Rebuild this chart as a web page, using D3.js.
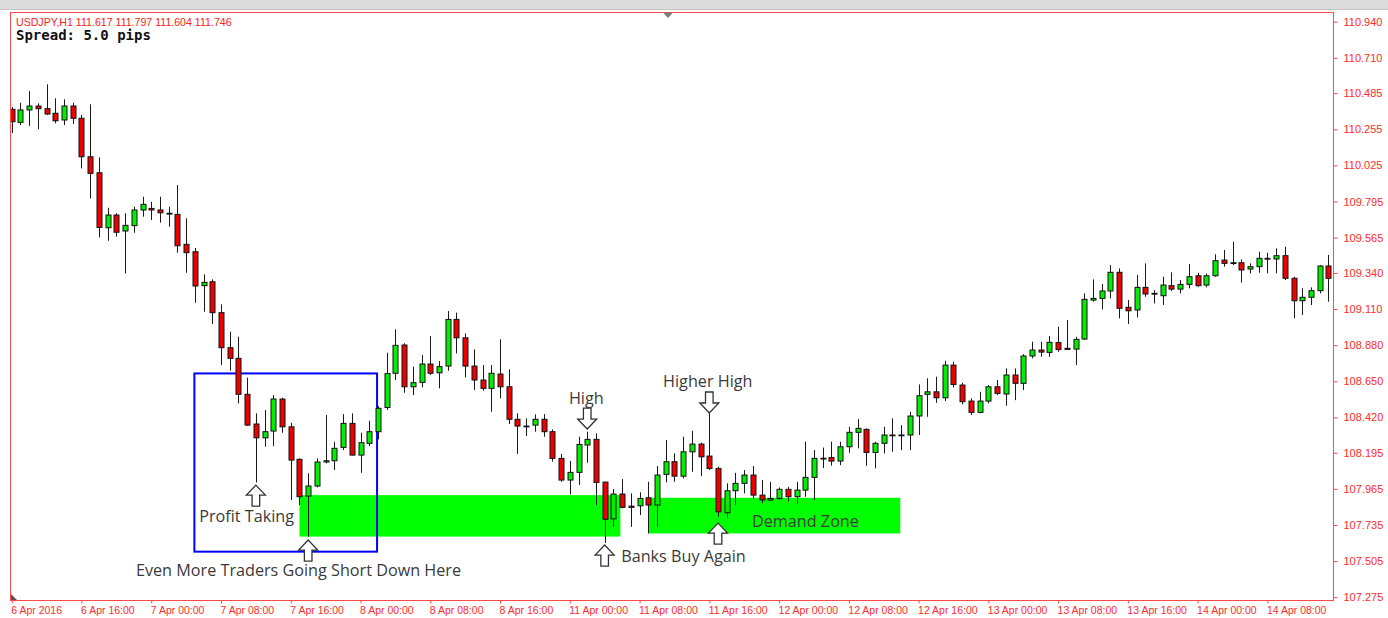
<!DOCTYPE html>
<html>
<head>
<meta charset="utf-8">
<script src="https://cdn.jsdelivr.net/npm/d3@7/dist/d3.min.js"></script>
<style>
  html, body { margin: 0; padding: 0; background: #fff; }
  svg { display: block; }
</style>
</head>
<body>
<div id="chart"></div>
<script>
// USDJPY H1, 6 Apr 08:00 .. 14 Apr 2016
const opens = [
  110.382,110.299,110.378,110.403,110.386,110.357,110.314,110.403,110.325,110.080,
  109.978,109.628,109.709,109.607,109.641,109.741,109.751,109.741,109.720,109.713,
  109.522,109.475,109.259,109.284,109.087,108.864,108.796,108.567,108.378,108.290,
  108.333,108.537,108.360,108.153,107.919,107.983,108.136,108.144,108.229,108.382,
  108.180,108.255,108.329,108.483,108.701,108.881,108.615,108.643,108.760,108.704,
  108.747,109.044,108.927,108.747,108.658,108.605,108.696,108.615,108.408,108.365,
  108.371,108.408,108.329,108.159,108.021,108.070,108.244,108.280,108.008,107.774,
  107.932,107.855,107.857,107.908,107.862,108.057,108.138,108.046,108.201,108.250,
  108.174,108.095,107.813,107.953,108.000,108.053,107.925,107.894,107.904,107.962,
  107.915,107.957,108.038,108.159,108.164,108.142,108.233,108.325,108.344,108.197,
  108.255,108.308,108.308,108.308,108.429,108.567,108.583,108.545,108.753,108.626,
  108.524,108.452,108.524,108.615,108.569,108.690,108.637,108.811,108.849,108.834,
  108.897,108.860,108.855,108.919,109.167,109.178,109.225,109.344,109.121,109.104,
  109.248,109.210,109.195,109.259,109.237,109.267,109.322,109.263,109.322,109.422,
  109.405,109.405,109.365,109.380,109.433,109.429,109.450,109.306,109.163,109.185,
  109.227,109.384
];
const highs = [
  110.397,110.424,110.499,110.420,110.541,110.452,110.446,110.424,110.346,110.414,
  110.076,109.755,109.720,109.720,109.762,109.825,109.793,109.825,109.762,109.900,
  109.688,109.499,109.331,109.299,109.140,108.966,108.934,108.673,108.446,108.467,
  108.562,108.545,108.386,108.159,108.064,108.159,108.435,108.265,108.441,108.446,
  108.322,108.399,108.492,108.832,108.981,108.892,108.743,108.817,108.938,108.779,
  109.097,109.087,108.955,108.853,108.753,108.753,108.917,108.726,108.446,108.414,
  108.439,108.441,108.344,108.187,108.142,108.297,108.329,108.318,108.010,107.964,
  108.027,107.936,107.943,108.010,108.110,108.276,108.191,108.297,108.335,108.259,
  108.448,108.106,108.000,108.067,108.085,108.110,108.021,108.010,107.974,107.978,
  108.010,108.265,108.212,108.228,108.265,108.265,108.360,108.409,108.350,108.265,
  108.360,108.414,108.371,108.456,108.630,108.669,108.679,108.781,108.774,108.641,
  108.541,108.583,108.626,108.658,108.732,108.732,108.823,108.902,108.902,108.938,
  108.997,109.040,108.934,109.210,109.299,109.269,109.390,109.369,109.167,109.327,
  109.401,109.231,109.316,109.344,109.295,109.397,109.341,109.337,109.459,109.486,
  109.539,109.427,109.401,109.475,109.469,109.497,109.507,109.316,109.242,109.248,
  109.390,109.454
];
const lows = [
  110.231,110.282,110.276,110.255,110.346,110.293,110.282,110.288,110.006,109.815,
  109.567,109.545,109.571,109.337,109.596,109.698,109.677,109.660,109.634,109.469,
  109.341,109.150,109.093,109.015,108.753,108.717,108.509,108.365,108.006,108.233,
  108.237,108.322,107.894,107.862,107.660,107.974,108.127,108.085,108.212,108.178,
  108.067,108.237,108.280,108.467,108.658,108.577,108.562,108.611,108.690,108.605,
  108.717,108.828,108.675,108.594,108.590,108.456,108.541,108.378,108.187,108.301,
  108.329,108.297,108.138,108.010,107.930,107.989,108.131,107.862,107.620,107.723,
  107.841,107.723,107.798,107.681,107.723,108.006,108.010,108.032,108.074,108.046,
  108.085,107.787,107.781,107.862,107.936,107.904,107.873,107.889,107.894,107.883,
  107.868,107.915,107.894,108.097,108.113,108.116,108.195,108.223,108.112,108.095,
  108.191,108.201,108.212,108.212,108.308,108.424,108.513,108.524,108.611,108.503,
  108.435,108.446,108.509,108.562,108.494,108.530,108.594,108.796,108.806,108.806,
  108.838,108.849,108.753,108.913,109.157,109.108,109.178,109.051,109.015,109.057,
  109.188,109.146,109.136,109.225,109.210,109.242,109.252,109.248,109.316,109.380,
  109.390,109.278,109.337,109.341,109.337,109.337,109.295,109.051,109.072,109.136,
  109.210,109.157
];
const closes = [
  110.303,110.378,110.403,110.386,110.352,110.309,110.403,110.325,110.080,109.974,
  109.630,109.709,109.599,109.643,109.741,109.777,109.741,109.723,109.719,109.513,
  109.469,109.257,109.280,109.087,108.864,108.796,108.567,108.371,108.290,108.329,
  108.537,108.360,108.148,107.915,107.983,108.136,108.144,108.223,108.382,108.180,
  108.259,108.329,108.478,108.699,108.879,108.615,108.641,108.760,108.701,108.743,
  109.044,108.927,108.747,108.658,108.605,108.701,108.615,108.408,108.365,108.364,
  108.408,108.329,108.159,108.021,108.070,108.248,108.280,108.006,107.771,107.932,
  107.847,107.847,107.904,107.862,108.053,108.138,108.046,108.201,108.250,108.169,
  108.095,107.819,107.953,108.000,108.053,107.925,107.894,107.904,107.962,107.915,
  107.957,108.038,108.159,108.160,108.142,108.233,108.325,108.350,108.197,108.255,
  108.308,108.308,108.308,108.429,108.558,108.583,108.545,108.753,108.630,108.520,
  108.452,108.524,108.615,108.573,108.690,108.637,108.811,108.849,108.836,108.898,
  108.852,108.853,108.917,109.172,109.178,109.225,109.344,109.115,109.099,109.248,
  109.206,109.209,109.263,109.237,109.267,109.316,109.259,109.322,109.418,109.401,
  109.404,109.359,109.380,109.433,109.432,109.450,109.306,109.163,109.185,109.227,
  109.384,109.306
];

// time axis: one label every 8 bars
const timeLabels = [
  '6 Apr 2016','6 Apr 16:00','7 Apr 00:00','7 Apr 08:00','7 Apr 16:00',
  '8 Apr 00:00','8 Apr 08:00','8 Apr 16:00','11 Apr 00:00','11 Apr 08:00',
  '11 Apr 16:00','12 Apr 00:00','12 Apr 08:00','12 Apr 16:00','13 Apr 00:00',
  '13 Apr 08:00','13 Apr 16:00','14 Apr 00:00','14 Apr 08:00'
];
const priceTicks = [
  110.940,110.710,110.485,110.255,110.025,109.795,109.565,109.340,109.110,
  108.880,108.650,108.420,108.195,107.965,107.735,107.505,107.275
];

// drawn zones (bar index / price)
const zones = [
  { i0: 33, i1: 69.8, top: 107.925, bottom: 107.661 },
  { i0: 73, i1: 101.9, top: 107.908, bottom: 107.681 }
];
const box = { i0: 20.95, i1: 41.9, top: 108.700, bottom: 107.565 };
const arrows = [
  { i: 28, p: 107.989, dir: 'up' },
  { i: 34, p: 107.639, dir: 'up' },
  { i: 66, p: 108.346, dir: 'down' },
  { i: 80, p: 108.448, dir: 'down' },
  { i: 68, p: 107.607, dir: 'up' },
  { i: 81, p: 107.747, dir: 'up' }
];
const notes = [
  { i: 21.5, p: 107.753, text: 'Profit Taking' },
  { i: 14.25, p: 107.409, text: 'Even More Traders Going Short Down Here' },
  { i: 63.9, p: 108.505, text: 'High' },
  { i: 74.7, p: 108.613, text: 'Higher High' },
  { i: 69.9, p: 107.499, text: 'Banks Buy Again' },
  { i: 84.9, p: 107.722, text: 'Demand Zone' }
];

const W = 1388, H = 618;
const plot = { left: 10.5, right: 1333.5, top: 12.5, bottom: 600.5 };

const svg = d3.select('#chart').append('svg')
  .attr('width', W).attr('height', H);

// window chrome
svg.append('rect').attr('x', 0).attr('y', 0).attr('width', W).attr('height', 9)
  .attr('fill', '#dcdcdc');
svg.append('line').attr('x1', 0).attr('x2', W).attr('y1', 9.5).attr('y2', 9.5)
  .attr('stroke', '#c4c4c4');

const x = d3.scaleLinear().domain([0, opens.length - 1]).range([11.7, 11.7 + 8.72 * (opens.length - 1)]);
const y = d3.scaleLinear().domain([107.275, 110.940]).range([597.2, 21.7]);

svg.append('defs').append('clipPath').attr('id', 'plotClip')
  .append('rect')
  .attr('x', plot.left + 0.5).attr('y', plot.top + 0.5)
  .attr('width', plot.right - plot.left - 1).attr('height', plot.bottom - plot.top - 1);

const g = svg.append('g').attr('clip-path', 'url(#plotClip)');

// zones under the candles
g.selectAll('.zone').data(zones).enter().append('rect')
  .attr('class', 'zone')
  .attr('x', d => x(d.i0)).attr('width', d => x(d.i1) - x(d.i0))
  .attr('y', d => y(d.top)).attr('height', d => y(d.bottom) - y(d.top))
  .attr('fill', '#00ff00');

g.append('rect')
  .attr('x', x(box.i0)).attr('width', x(box.i1) - x(box.i0))
  .attr('y', y(box.top)).attr('height', y(box.bottom) - y(box.top))
  .attr('fill', 'none').attr('stroke', '#0000ff').attr('stroke-width', 2);

// candles
const bars = d3.range(opens.length).map(i => ({
  i, o: opens[i], h: highs[i], l: lows[i], c: closes[i]
}));

const candle = g.selectAll('.candle').data(bars).enter().append('g')
  .attr('class', 'candle')
  .attr('transform', d => `translate(${Math.round(x(d.i)) + 0.5},0)`);

candle.append('line')
  .attr('y1', d => y(d.h)).attr('y2', d => y(d.l))
  .attr('stroke', '#1a1a1a').attr('stroke-width', 1);

candle.append('rect')
  .attr('x', -2.5).attr('width', 5)
  .attr('y', d => y(Math.max(d.o, d.c)))
  .attr('height', d => Math.max(0.8, Math.abs(y(d.o) - y(d.c))))
  .attr('fill', d => d.c > d.o ? '#00ee00' : (d.c < d.o ? '#ee0000' : '#000'))
  .attr('stroke', '#111').attr('stroke-width', 1);

// frame
svg.append('rect')
  .attr('x', plot.left).attr('y', plot.top)
  .attr('width', plot.right - plot.left).attr('height', plot.bottom - plot.top)
  .attr('fill', 'none').attr('stroke', '#ff4a4a').attr('stroke-width', 1);

// price axis
const yAxis = d3.axisRight(y).tickValues(priceTicks).tickSize(4).tickPadding(6)
  .tickFormat(d3.format('.3f'));
const ya = svg.append('g').attr('transform', `translate(${plot.right},0)`).call(yAxis);
ya.select('.domain').remove();
ya.selectAll('line').attr('stroke', '#ff4a4a');
ya.selectAll('text').attr('fill', '#ff2a2a')
  .style('font-family', '"Liberation Sans", Arial, sans-serif').style('font-size', '11px');

// time axis
const timeIdx = timeLabels.map((t, k) => k * 8);
const xAxis = d3.axisBottom(x).tickValues(timeIdx).tickSize(3).tickPadding(3)
  .tickFormat((d, k) => timeLabels[k]);
const xa = svg.append('g').attr('transform', `translate(0,${plot.bottom})`).call(xAxis);
xa.select('.domain').remove();
xa.selectAll('line').attr('stroke', '#ff4a4a');
xa.selectAll('text').attr('fill', '#ff2a2a').attr('text-anchor', 'start').attr('dx', -1)
  .style('font-family', '"Liberation Sans", Arial, sans-serif').style('font-size', '10.5px');

// small markers of the terminal
svg.append('path').attr('d', 'M663,12.5L673,12.5L668,18Z').attr('fill', '#7a7a7a');
svg.append('path').attr('d', 'M11,594L11,600L17,600Z').attr('fill', '#555');

// header
svg.append('text').attr('x', 16).attr('y', 25.5)
  .attr('fill', '#ff2020')
  .style('font-family', '"Liberation Sans", Arial, sans-serif').style('font-size', '10.6px')
  .text('USDJPY,H1  111.617 111.797 111.604 111.746');
svg.append('text').attr('x', 16).attr('y', 39.5)
  .attr('fill', '#111').attr('font-weight', 'bold')
  .style('font-family', '"DejaVu Sans Mono", monospace').style('font-size', '14px')
  .text('Spread: 5.0 pips');

// arrows
const upPath = 'M0,0L9.5,10L3.8,10L3.8,21L-3.8,21L-3.8,10L-9.5,10Z';
svg.selectAll('.arrow').data(arrows).enter().append('path')
  .attr('class', 'arrow')
  .attr('d', upPath)
  .attr('transform', d => `translate(${x(d.i)},${y(d.p)})` + (d.dir === 'down' ? ' scale(1,-1)' : ''))
  .attr('fill', '#fff').attr('stroke', '#333').attr('stroke-width', 1.3);

// annotation text
svg.selectAll('.note').data(notes).enter().append('text')
  .attr('class', 'note')
  .attr('x', d => x(d.i)).attr('y', d => y(d.p))
  .attr('fill', '#3a3a3a')
  .style('font-family', '"Open Sans", "Noto Sans", sans-serif').style('font-size', '16.2px')
  .text(d => d.text);
</script>
</body>
</html>
